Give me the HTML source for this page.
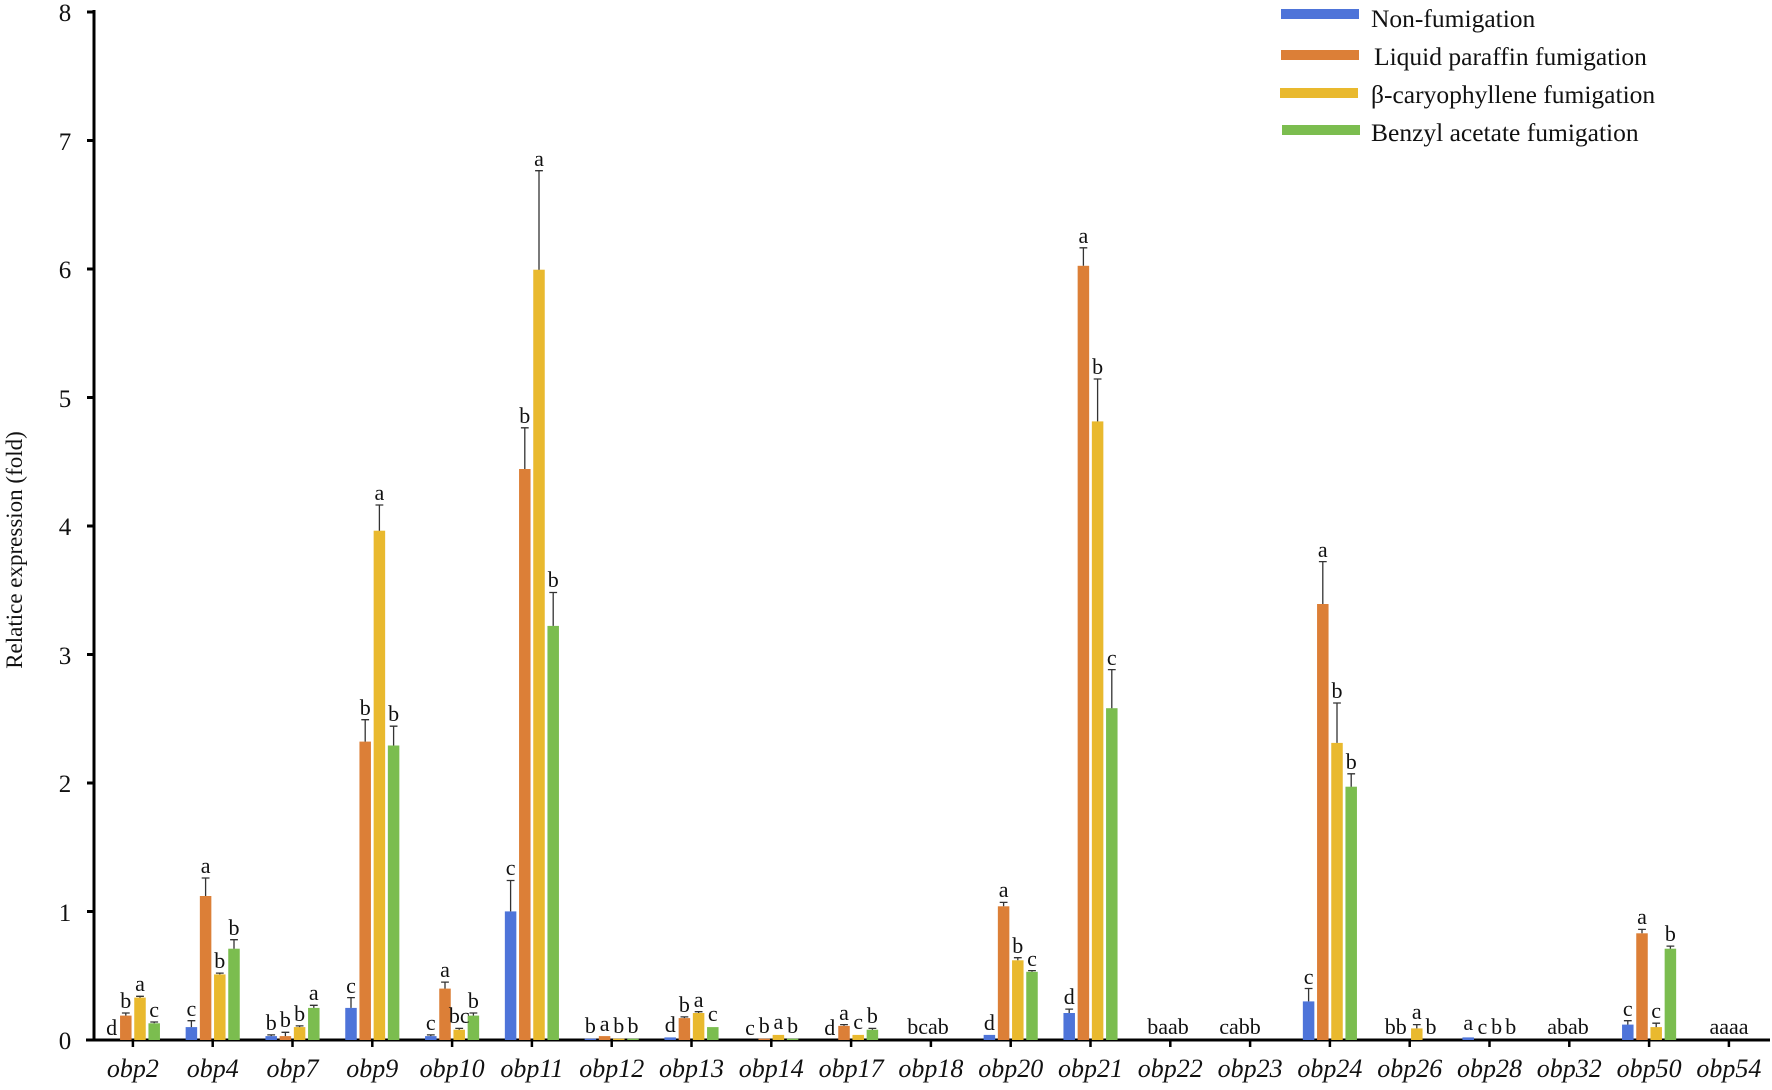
<!DOCTYPE html>
<html><head><meta charset="utf-8"><style>
html,body{margin:0;padding:0;background:#fff;}
svg{display:block;font-family:"Liberation Serif",serif;}
.e{stroke:#333;stroke-width:1.3;fill:none}
.l{font-size:22px;text-anchor:middle;fill:#111}
.B{fill:#4e74d9}.O{fill:#dc7f37}.Y{fill:#e9b92e}.G{fill:#7bbd4f}
</style></head><body>
<svg width="1772" height="1090" viewBox="0 0 1772 1090" xmlns="http://www.w3.org/2000/svg">
<line x1="94" y1="10" x2="94" y2="1041" stroke="#000" stroke-width="3"/>
<line x1="86" y1="1040" x2="1770" y2="1040" stroke="#000" stroke-width="3"/>
<g stroke="#000" stroke-width="3">
<line x1="87" y1="12" x2="94" y2="12"/><line x1="87" y1="140.5" x2="94" y2="140.5"/><line x1="87" y1="269" x2="94" y2="269"/><line x1="87" y1="397.5" x2="94" y2="397.5"/><line x1="87" y1="526" x2="94" y2="526"/><line x1="87" y1="654.5" x2="94" y2="654.5"/><line x1="87" y1="783" x2="94" y2="783"/><line x1="87" y1="911.5" x2="94" y2="911.5"/>
</g>
<g font-size="25" text-anchor="middle" fill="#111">
<text x="65" y="21">8</text><text x="65" y="150">7</text><text x="65" y="278">6</text><text x="65" y="407">5</text><text x="65" y="535">4</text><text x="65" y="664">3</text><text x="65" y="792">2</text><text x="65" y="921">1</text><text x="65" y="1049">0</text>
</g>
<text transform="translate(22,550) rotate(-90)" font-size="23" text-anchor="middle" fill="#111">Relatice expression (fold)</text>
<g stroke="#000" stroke-width="2.5">
<line x1="132.9" y1="1040" x2="132.9" y2="1047"/><line x1="212.7" y1="1040" x2="212.7" y2="1047"/><line x1="292.5" y1="1040" x2="292.5" y2="1047"/><line x1="372.3" y1="1040" x2="372.3" y2="1047"/><line x1="452.1" y1="1040" x2="452.1" y2="1047"/><line x1="531.9" y1="1040" x2="531.9" y2="1047"/><line x1="611.7" y1="1040" x2="611.7" y2="1047"/><line x1="691.5" y1="1040" x2="691.5" y2="1047"/><line x1="771.3" y1="1040" x2="771.3" y2="1047"/><line x1="851.1" y1="1040" x2="851.1" y2="1047"/><line x1="930.9" y1="1040" x2="930.9" y2="1047"/><line x1="1010.7" y1="1040" x2="1010.7" y2="1047"/><line x1="1090.5" y1="1040" x2="1090.5" y2="1047"/><line x1="1170.3" y1="1040" x2="1170.3" y2="1047"/><line x1="1250.1" y1="1040" x2="1250.1" y2="1047"/><line x1="1329.9" y1="1040" x2="1329.9" y2="1047"/><line x1="1409.7" y1="1040" x2="1409.7" y2="1047"/><line x1="1489.5" y1="1040" x2="1489.5" y2="1047"/><line x1="1569.3" y1="1040" x2="1569.3" y2="1047"/><line x1="1649.1" y1="1040" x2="1649.1" y2="1047"/><line x1="1728.9" y1="1040" x2="1728.9" y2="1047"/>
</g>
<g font-size="26" font-style="italic" text-anchor="middle" fill="#111">
<text x="132.9" y="1077">obp2</text><text x="212.7" y="1077">obp4</text><text x="292.5" y="1077">obp7</text><text x="372.3" y="1077">obp9</text><text x="452.1" y="1077">obp10</text><text x="531.9" y="1077">obp11</text><text x="611.7" y="1077">obp12</text><text x="691.5" y="1077">obp13</text><text x="771.3" y="1077">obp14</text><text x="851.1" y="1077">obp17</text><text x="930.9" y="1077">obp18</text><text x="1010.7" y="1077">obp20</text><text x="1090.5" y="1077">obp21</text><text x="1170.3" y="1077">obp22</text><text x="1250.1" y="1077">obp23</text><text x="1329.9" y="1077">obp24</text><text x="1409.7" y="1077">obp26</text><text x="1489.5" y="1077">obp28</text><text x="1569.3" y="1077">obp32</text><text x="1649.1" y="1077">obp50</text><text x="1728.9" y="1077">obp54</text>
</g>
<g transform="translate(0,-1)">
<g transform="translate(132.9,0)">
<rect class="O" x="-12.85" y="1016.6" width="11.5" height="24.4"/><rect class="Y" x="1.35" y="998.6" width="11.5" height="42.4"/><rect class="G" x="15.55" y="1024.3" width="11.5" height="16.7"/>
<path class="e" d="M-7.1 1016.6V1014M-11 1014H-3.2M7.1 998.6V997.3M3.2 997.3H11M21.3 1024.3V1023M17.4 1023H25.2"/>
<text class="l" x="-21.3" y="1036">d</text><text class="l" x="-7.1" y="1009">b</text><text class="l" x="7.1" y="992">a</text><text class="l" x="21.3" y="1018">c</text></g>
<g transform="translate(212.7,0)">
<rect class="B" x="-27.05" y="1028.1" width="11.5" height="12.9"/><rect class="O" x="-12.85" y="897" width="11.5" height="144"/><rect class="Y" x="1.35" y="975.4" width="11.5" height="65.6"/><rect class="G" x="15.55" y="949.7" width="11.5" height="91.3"/>
<path class="e" d="M-21.3 1028.1V1021.7M-25.2 1021.7H-17.4M-7.1 897V879M-11 879H-3.2M7.1 975.4V974.1M3.2 974.1H11M21.3 949.7V940.7M17.4 940.7H25.2"/>
<text class="l" x="-21.3" y="1017">c</text><text class="l" x="-7.1" y="874">a</text><text class="l" x="7.1" y="969">b</text><text class="l" x="21.3" y="936">b</text></g>
<g transform="translate(292.5,0)">
<rect class="B" x="-27.05" y="1037.1" width="11.5" height="3.9"/><rect class="O" x="-12.85" y="1037.1" width="11.5" height="3.9"/><rect class="Y" x="1.35" y="1028.1" width="11.5" height="12.9"/><rect class="G" x="15.55" y="1008.9" width="11.5" height="32.1"/>
<path class="e" d="M-21.3 1037.1V1035.9M-25.2 1035.9H-17.4M-7.1 1037.1V1033.3M-11 1033.3H-3.2M7.1 1028.1V1026.9M3.2 1026.9H11M21.3 1008.9V1006.3M17.4 1006.3H25.2"/>
<text class="l" x="-21.3" y="1031">b</text><text class="l" x="-7.1" y="1028">b</text><text class="l" x="7.1" y="1022">b</text><text class="l" x="21.3" y="1001">a</text></g>
<g transform="translate(372.3,0)">
<rect class="B" x="-27.05" y="1008.9" width="11.5" height="32.1"/><rect class="O" x="-12.85" y="742.6" width="11.5" height="298.4"/><rect class="Y" x="1.35" y="531.7" width="11.5" height="509.3"/><rect class="G" x="15.55" y="746.5" width="11.5" height="294.5"/>
<path class="e" d="M-21.3 1008.9V998.6M-25.2 998.6H-17.4M-7.1 742.6V720.7M-11 720.7H-3.2M7.1 531.7V506M3.2 506H11M21.3 746.5V727.2M17.4 727.2H25.2"/>
<text class="l" x="-21.3" y="994">c</text><text class="l" x="-7.1" y="716">b</text><text class="l" x="7.1" y="501">a</text><text class="l" x="21.3" y="722">b</text></g>
<g transform="translate(452.1,0)">
<rect class="B" x="-27.05" y="1037.1" width="11.5" height="3.9"/><rect class="O" x="-12.85" y="989.6" width="11.5" height="51.4"/><rect class="Y" x="1.35" y="1030.7" width="11.5" height="10.3"/><rect class="G" x="15.55" y="1016.6" width="11.5" height="24.4"/>
<path class="e" d="M-21.3 1037.1V1035.9M-25.2 1035.9H-17.4M-7.1 989.6V983.1M-11 983.1H-3.2M7.1 1030.7V1029.4M3.2 1029.4H11M21.3 1016.6V1014M17.4 1014H25.2"/>
<text class="l" x="-21.3" y="1031">c</text><text class="l" x="-7.1" y="978">a</text><text class="l" x="7.1" y="1024">bc</text><text class="l" x="21.3" y="1009">b</text></g>
<g transform="translate(531.9,0)">
<rect class="B" x="-27.05" y="912.4" width="11.5" height="128.6"/><rect class="O" x="-12.85" y="470" width="11.5" height="571"/><rect class="Y" x="1.35" y="270.7" width="11.5" height="770.3"/><rect class="G" x="15.55" y="626.9" width="11.5" height="414.1"/>
<path class="e" d="M-21.3 912.4V881.5M-25.2 881.5H-17.4M-7.1 470V428.8M-11 428.8H-3.2M7.1 270.7V171.7M3.2 171.7H11M21.3 626.9V593.5M17.4 593.5H25.2"/>
<text class="l" x="-21.3" y="876">c</text><text class="l" x="-7.1" y="424">b</text><text class="l" x="7.1" y="167">a</text><text class="l" x="21.3" y="588">b</text></g>
<g transform="translate(611.7,0)">
<rect class="B" x="-27.05" y="1039.7" width="11.5" height="1.3"/><rect class="O" x="-12.85" y="1037.1" width="11.5" height="3.9"/><rect class="Y" x="1.35" y="1039.7" width="11.5" height="1.3"/><rect class="G" x="15.55" y="1039.7" width="11.5" height="1.3"/>
<text class="l" x="-21.3" y="1034">b</text><text class="l" x="-7.1" y="1032">a</text><text class="l" x="7.1" y="1034">b</text><text class="l" x="21.3" y="1034">b</text></g>
<g transform="translate(691.5,0)">
<rect class="B" x="-27.05" y="1038.4" width="11.5" height="2.6"/><rect class="O" x="-12.85" y="1019.1" width="11.5" height="21.9"/><rect class="Y" x="1.35" y="1014" width="11.5" height="27"/><rect class="G" x="15.55" y="1028.1" width="11.5" height="12.9"/>
<path class="e" d="M-7.1 1019.1V1017.9M-11 1017.9H-3.2M7.1 1014V1012.7M3.2 1012.7H11"/>
<text class="l" x="-21.3" y="1033">d</text><text class="l" x="-7.1" y="1013">b</text><text class="l" x="7.1" y="1008">a</text><text class="l" x="21.3" y="1022">c</text></g>
<g transform="translate(771.3,0)">
<rect class="O" x="-12.85" y="1039.7" width="11.5" height="1.3"/><rect class="Y" x="1.35" y="1035.9" width="11.5" height="5.1"/><rect class="G" x="15.55" y="1039.7" width="11.5" height="1.3"/>
<text class="l" x="-21.3" y="1036">c</text><text class="l" x="-7.1" y="1034">b</text><text class="l" x="7.1" y="1030">a</text><text class="l" x="21.3" y="1034">b</text></g>
<g transform="translate(851.1,0)">
<rect class="O" x="-12.85" y="1026.9" width="11.5" height="14.1"/><rect class="Y" x="1.35" y="1035.9" width="11.5" height="5.1"/><rect class="G" x="15.55" y="1030.7" width="11.5" height="10.3"/>
<path class="e" d="M-7.1 1026.9V1025.6M-11 1025.6H-3.2M21.3 1030.7V1029.4M17.4 1029.4H25.2"/>
<text class="l" x="-21.3" y="1036">d</text><text class="l" x="-7.1" y="1021">a</text><text class="l" x="7.1" y="1030">c</text><text class="l" x="21.3" y="1024">b</text></g>
<text class="l" x="928" y="1035">bcab</text>
<g transform="translate(1010.7,0)">
<rect class="B" x="-27.05" y="1035.9" width="11.5" height="5.1"/><rect class="O" x="-12.85" y="907.3" width="11.5" height="133.7"/><rect class="Y" x="1.35" y="961.3" width="11.5" height="79.7"/><rect class="G" x="15.55" y="972.8" width="11.5" height="68.2"/>
<path class="e" d="M-7.1 907.3V903.4M-11 903.4H-3.2M7.1 961.3V958.7M3.2 958.7H11M21.3 972.8V971.6M17.4 971.6H25.2"/>
<text class="l" x="-21.3" y="1031">d</text><text class="l" x="-7.1" y="898">a</text><text class="l" x="7.1" y="954">b</text><text class="l" x="21.3" y="967">c</text></g>
<g transform="translate(1090.5,0)">
<rect class="B" x="-27.05" y="1014" width="11.5" height="27"/><rect class="O" x="-12.85" y="266.8" width="11.5" height="774.2"/><rect class="Y" x="1.35" y="422.4" width="11.5" height="618.6"/><rect class="G" x="15.55" y="709.2" width="11.5" height="331.8"/>
<path class="e" d="M-21.3 1014V1010.1M-25.2 1010.1H-17.4M-7.1 266.8V248.8M-11 248.8H-3.2M7.1 422.4V380M3.2 380H11M21.3 709.2V670.6M17.4 670.6H25.2"/>
<text class="l" x="-21.3" y="1005">d</text><text class="l" x="-7.1" y="244">a</text><text class="l" x="7.1" y="375">b</text><text class="l" x="21.3" y="666">c</text></g>
<text class="l" x="1168" y="1035">baab</text>
<text class="l" x="1240" y="1035">cabb</text>
<g transform="translate(1329.9,0)">
<rect class="B" x="-27.05" y="1002.4" width="11.5" height="38.6"/><rect class="O" x="-12.85" y="605" width="11.5" height="436"/><rect class="Y" x="1.35" y="743.9" width="11.5" height="297.1"/><rect class="G" x="15.55" y="787.7" width="11.5" height="253.3"/>
<path class="e" d="M-21.3 1002.4V989.5M-25.2 989.5H-17.4M-7.1 605V562.6M-11 562.6H-3.2M7.1 743.9V704M3.2 704H11M21.3 787.7V774.8M17.4 774.8H25.2"/>
<text class="l" x="-21.3" y="985">c</text><text class="l" x="-7.1" y="558">a</text><text class="l" x="7.1" y="699">b</text><text class="l" x="21.3" y="770">b</text></g>
<g transform="translate(1409.7,0)">
<rect class="Y" x="1.35" y="1029.4" width="11.5" height="11.6"/>
<path class="e" d="M7.1 1029.4V1025.6M3.2 1025.6H11"/>
<text class="l" x="-14" y="1035">bb</text><text class="l" x="7.1" y="1020">a</text><text class="l" x="21.3" y="1035">b</text></g>
<g transform="translate(1489.5,0)">
<rect class="B" x="-27.05" y="1038.4" width="11.5" height="2.6"/>
<text class="l" x="-21.3" y="1031">a</text><text class="l" x="-7.1" y="1035">c</text><text class="l" x="7.1" y="1035">b</text><text class="l" x="21.3" y="1035">b</text></g>
<text class="l" x="1568" y="1035">abab</text>
<g transform="translate(1649.1,0)">
<rect class="B" x="-27.05" y="1025.6" width="11.5" height="15.4"/><rect class="O" x="-12.85" y="934.3" width="11.5" height="106.7"/><rect class="Y" x="1.35" y="1028.1" width="11.5" height="12.9"/><rect class="G" x="15.55" y="949.7" width="11.5" height="91.3"/>
<path class="e" d="M-21.3 1025.6V1021.7M-25.2 1021.7H-17.4M-7.1 934.3V930.4M-11 930.4H-3.2M7.1 1028.1V1024.2M3.2 1024.2H11M21.3 949.7V947.1M17.4 947.1H25.2"/>
<text class="l" x="-21.3" y="1017">c</text><text class="l" x="-7.1" y="925">a</text><text class="l" x="7.1" y="1019">c</text><text class="l" x="21.3" y="942">b</text></g>
<text class="l" x="1729" y="1035">aaaa</text>
</g>
<rect x="1281" y="9" width="78" height="10" class="B"/>
<rect x="1281" y="50" width="78" height="10" class="O"/>
<rect x="1280" y="88" width="78" height="10" class="Y"/>
<rect x="1282" y="125" width="78" height="10" class="G"/>
<g font-size="25.5" fill="#111">
<text x="1371" y="27">Non-fumigation</text>
<text x="1374" y="65">Liquid paraffin fumigation</text>
<text x="1371" y="103">β-caryophyllene fumigation</text>
<text x="1371" y="141">Benzyl acetate fumigation</text>
</g>
</svg>
</body></html>
